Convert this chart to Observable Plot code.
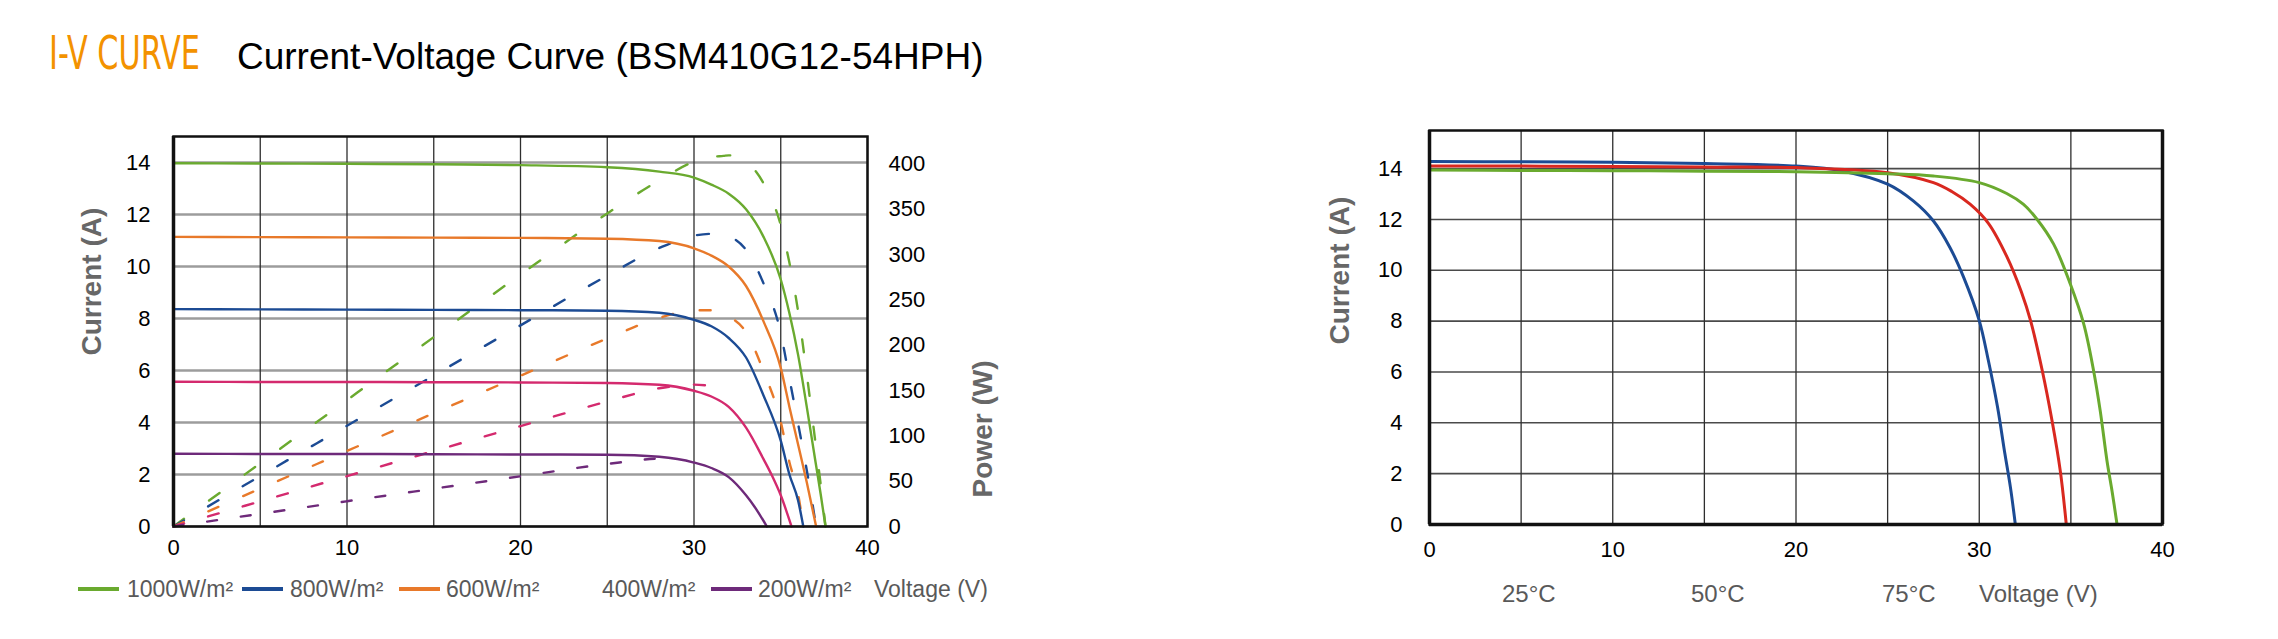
<!DOCTYPE html>
<html>
<head>
<meta charset="utf-8">
<script src="https://cdn.jsdelivr.net/npm/d3@7"></script>
<script src="https://cdn.jsdelivr.net/npm/@observablehq/plot@0.6"></script>
<style>
  html, body { margin: 0; padding: 0; background: #fff; }
  #root { position: relative; width: 2278px; height: 639px; overflow: hidden; font-family: "Liberation Sans", Arial, sans-serif; }
  .abs { position: absolute; white-space: nowrap; line-height: 1; }
  .sw { position: absolute; height: 4px; }
</style>
</head>
<body>
<div id="root"></div>
<script>
// ---------- DATA ----------
const titleMain = "I-V CURVE";
const titleSub = "Current-Voltage Curve (BSM410G12-54HPH)";
const voltageTicks = [0, 10, 20, 30, 40];
const voltageGrid = [0, 5, 10, 15, 20, 25, 30, 35, 40];
const currentTicks = [0, 2, 4, 6, 8, 10, 12, 14];
const powerTicks = [0, 50, 100, 150, 200, 250, 300, 350, 400];
const irradianceLabels = ["1000W/m²", "800W/m²", "600W/m²", "400W/m²", "200W/m²"];
const temperatureLabels = ["25°C", "50°C", "75°C"];

// I-V curves at different irradiance (V, A)
const ivV1000 = [0, 5, 10, 15, 20, 25, 28, 30, 31, 32, 33, 34, 35, 35.5, 36, 36.5, 37, 37.3, 37.58];
const ivI1000 = [13.97, 13.96, 13.95, 13.93, 13.9, 13.82, 13.65, 13.42, 13.15, 12.8, 12.2, 11.15, 9.5, 8.2, 6.6, 4.6, 2.5, 1.25, 0];
const ivV800 = [0, 5, 10, 15, 20, 25, 28, 30, 31, 32, 33, 34, 35, 35.5, 36, 36.3];
const ivI800 = [8.36, 8.35, 8.34, 8.33, 8.32, 8.3, 8.22, 7.95, 7.7, 7.25, 6.5, 5.05, 3.3, 2.0, 1.0, 0];
const ivV600 = [0, 5, 10, 15, 20, 25, 28, 30, 31, 32, 33, 34, 35, 35.5, 36, 36.5, 37.04];
const ivI600 = [11.14, 11.13, 11.12, 11.11, 11.1, 11.07, 10.98, 10.7, 10.42, 10.0, 9.25, 7.9, 6.1, 4.6, 3.15, 1.7, 0];
const ivV400 = [0, 5, 10, 15, 20, 25, 28, 30, 31, 32, 33, 34, 34.5, 35, 35.62];
const ivI400 = [5.57, 5.56, 5.56, 5.55, 5.54, 5.52, 5.45, 5.22, 5.0, 4.6, 3.8, 2.6, 1.95, 1.2, 0];
const ivV200 = [0, 5, 10, 15, 20, 25, 28, 30, 31, 32, 33, 33.5, 34.2];
const ivI200 = [2.8, 2.79, 2.79, 2.78, 2.77, 2.76, 2.68, 2.46, 2.25, 1.9, 1.2, 0.75, 0];

// P-V curves (dashed, V, W)
const pvV1000 = [0, 5, 10, 15, 20, 25, 28, 30, 31, 31.7, 32, 33, 34, 35, 35.5, 36, 36.5, 37, 37.3, 37.58];
const pvP1000 = [0, 69.8, 139.5, 209, 278, 345.5, 382, 402.6, 407.7, 409, 409.6, 402.6, 379, 332.5, 291, 237.6, 167.9, 92.5, 46.6, 0];
const pvV800 = [0, 5, 10, 15, 20, 25, 28, 30, 31, 32, 33, 34, 35, 35.5, 36, 36.5, 37.04];
const pvP800 = [0, 55.7, 111.2, 166.7, 222, 276.8, 307.4, 321, 323, 320, 305.3, 268.6, 213.5, 163.3, 113.4, 62.1, 0];
const pvV600 = [0, 5, 10, 15, 20, 25, 28, 30, 31, 32, 33, 34, 35, 35.5, 36, 36.3];
const pvP600 = [0, 41.8, 83.4, 125, 166.4, 207.5, 230.2, 238.5, 238.7, 232, 214.5, 171.7, 115.5, 71, 36, 0];
const pvV400 = [0, 5, 10, 15, 20, 25, 28, 30, 31];
const pvP400 = [0, 27.8, 55.6, 83.3, 110.8, 138, 152.6, 156.6, 155];
const pvV200 = [0, 5, 10, 15, 20, 25, 28, 29];
const pvP200 = [0, 14, 27.9, 41.7, 55.4, 69, 75, 75.4];

// I-V curves at different temperatures (V, A)
const tV25 = [0, 5, 10, 15, 20, 25, 27.5, 30, 31.5, 32.4, 33.15, 34.06, 34.97, 35.7, 36.24, 36.6, 36.97, 37.25, 37.52];
const tI25 = [13.95, 13.93, 13.92, 13.9, 13.88, 13.8, 13.71, 13.45, 13.02, 12.6, 12.01, 11.03, 9.46, 7.89, 6.05, 4.48, 2.51, 1.3, 0];
const tV50 = [0, 5, 10, 15, 20, 25, 27.5, 28.5, 29.5, 30.5, 31.5, 32.3, 32.8, 33.44, 33.97, 34.42, 34.75];
const tI50 = [14.1, 14.1, 14.08, 14.06, 14.04, 13.84, 13.45, 13.1, 12.6, 11.85, 10.55, 9.15, 8.02, 6.05, 4.09, 2.12, 0];
const tV75 = [0, 5, 10, 15, 20, 22.5, 25, 26.4, 27.5, 28.4, 29.15, 30, 30.5, 31, 31.4, 31.7, 31.97];
const tI75 = [14.28, 14.27, 14.25, 14.2, 14.1, 13.91, 13.39, 12.73, 11.94, 10.9, 9.72, 8.02, 6.44, 4.61, 2.78, 1.47, 0];

// ---------- STYLE ----------
const COL = { green: "#6aaa2f", blue: "#1c4b94", orange: "#e8792a", pink: "#d42a6e", purple: "#6e2a7a", red: "#d9281f" };
const FONT = '"Liberation Sans", Arial, sans-serif';
const AXIS_TITLE = "#676767";
const LEGEND_TEXT = "#595959";
const K = 13.94 / 400; // power (W) -> current-axis position

const rows = (vs, ys) => vs.map((v, k) => ({ v, y: ys[k] }));

const ivSeries = [
  { d: rows(ivV1000, ivI1000), c: COL.green },
  { d: rows(ivV800, ivI800), c: COL.blue },
  { d: rows(ivV600, ivI600), c: COL.orange },
  { d: rows(ivV400, ivI400), c: COL.pink },
  { d: rows(ivV200, ivI200), c: COL.purple }
];
const pvSeries = [
  { d: rows(pvV1000, pvP1000), c: COL.green, dash: "13,31" },
  { d: rows(pvV800, pvP800), c: COL.blue, dash: "12,28" },
  { d: rows(pvV600, pvP600), c: COL.orange, dash: "11,27" },
  { d: rows(pvV400, pvP400), c: COL.pink, dash: "11,25" },
  { d: rows(pvV200, pvP200), c: COL.purple, dash: "10,24" }
];
const tSeries = [
  { d: rows(tV75, tI75), c: COL.blue },
  { d: rows(tV50, tI50), c: COL.red },
  { d: rows(tV25, tI25), c: COL.green }
];

const root = document.getElementById("root");

// ---------- LEFT CHART ----------
const leftPlot = Plot.plot({
  width: 1040, height: 580,
  marginLeft: 173, marginRight: 173, marginTop: 136, marginBottom: 54,
  x: { domain: [0, 40], axis: null },
  y: { domain: [0, 15], axis: null },
  style: { fontFamily: FONT, fontSize: "22px", color: "#000", background: "transparent", overflow: "visible" },
  marks: [
    Plot.ruleY(currentTicks, { stroke: "#9c9c9c", strokeWidth: 2.4 }),
    Plot.ruleX(voltageGrid, { stroke: "#2e2e2e", strokeWidth: 1.3 }),
    ...pvSeries.map(s => Plot.line(s.d, { x: "v", y: d => d.y * K, stroke: s.c, strokeWidth: 2.4, strokeDasharray: s.dash, curve: "monotone-x" })),
    ...ivSeries.map(s => Plot.line(s.d, { x: "v", y: "y", stroke: s.c, strokeWidth: 2.4, curve: "monotone-x" })),
    Plot.frame({ stroke: "#111", strokeWidth: 2.5 }),
    Plot.ruleX([0], { stroke: "#111", strokeWidth: 3.5 }),
    Plot.axisY({ ticks: currentTicks, tickSize: 0, tickPadding: 23, fill: "#000", label: null }),
    Plot.axisY({ anchor: "right", ticks: powerTicks.map(p => p * K), tickFormat: v => String(Math.round(v / K)), tickSize: 0, tickPadding: 21, fill: "#000", label: null }),
    Plot.axisX({ ticks: voltageTicks, tickSize: 0, tickPadding: 13, fill: "#000", label: null }),
    Plot.text(["Current (A)"], { text: d => d, frameAnchor: "left", rotate: -90, dx: -81, dy: 24, fontSize: 28, fontWeight: "bold", fill: AXIS_TITLE }),
    Plot.text(["Power (W)"], { text: d => d, frameAnchor: "right", rotate: -90, dx: 116, dy: 29, fontSize: 28, fontWeight: "bold", fill: AXIS_TITLE })
  ]
});
const leftWrap = document.createElement("div");
leftWrap.className = "abs";
leftWrap.style.left = "0px"; leftWrap.style.top = "0px";
leftWrap.appendChild(leftPlot);
root.appendChild(leftWrap);

// ---------- RIGHT CHART ----------
const rightPlot = Plot.plot({
  width: 1098, height: 580,
  marginLeft: 249, marginRight: 116, marginTop: 130, marginBottom: 56,
  x: { domain: [0, 40], axis: null },
  y: { domain: [0, 15.5], axis: null },
  style: { fontFamily: FONT, fontSize: "22px", color: "#000", background: "transparent", overflow: "visible" },
  marks: [
    Plot.ruleY(currentTicks, { stroke: "#4a4a4a", strokeWidth: 1.6 }),
    Plot.ruleX(voltageGrid, { stroke: "#2e2e2e", strokeWidth: 1.3 }),
    ...tSeries.map(s => Plot.line(s.d, { x: "v", y: "y", stroke: s.c, strokeWidth: 3, curve: "catmull-rom" })),
    Plot.frame({ stroke: "#111", strokeWidth: 2.5 }),
    Plot.ruleX([0], { stroke: "#111", strokeWidth: 3.5 }),
    Plot.ruleX([40], { stroke: "#111", strokeWidth: 3.5 }),
    Plot.ruleY([0], { stroke: "#111", strokeWidth: 3.5 }),
    Plot.axisY({ ticks: currentTicks, tickSize: 0, tickPadding: 27, fill: "#000", label: null }),
    Plot.axisX({ ticks: voltageTicks, tickSize: 0, tickPadding: 17, fill: "#000", label: null }),
    Plot.text(["Current (A)"], { text: d => d, frameAnchor: "left", rotate: -90, dx: -89, dy: 17, fontSize: 28, fontWeight: "bold", fill: AXIS_TITLE })
  ]
});
const rightWrap = document.createElement("div");
rightWrap.className = "abs";
rightWrap.style.left = "1180px"; rightWrap.style.top = "0px";
rightWrap.appendChild(rightPlot);
root.appendChild(rightWrap);

// ---------- TITLES ----------
function addText(txt, left, top, size, color, extra) {
  const el = document.createElement("div");
  el.className = "abs";
  el.textContent = txt;
  el.style.left = left + "px";
  el.style.top = top + "px";
  el.style.fontSize = size + "px";
  el.style.color = color;
  if (extra) Object.assign(el.style, extra);
  root.appendChild(el);
  return el;
}
const t1 = addText(titleMain, 49, 30, 46, "#f39200", { fontFamily: '"Liberation Sans Narrow", "DejaVu Sans Condensed", "Liberation Sans", sans-serif', transformOrigin: "0 0" });
const w1 = t1.offsetWidth;
if (w1 > 0) t1.style.transform = `scaleX(${151 / w1})`;
addText(titleSub, 237, 37.5, 37, "#000");

// ---------- LEGENDS ----------
const leftLegendLayout = [
  { swatch: 78, text: 127, color: COL.green },
  { swatch: 242, text: 290, color: COL.blue },
  { swatch: 399, text: 446, color: COL.orange },
  { swatch: null, text: 602, color: COL.pink },
  { swatch: 711, text: 758, color: COL.purple }
];
irradianceLabels.forEach((lab, k) => {
  const L = leftLegendLayout[k];
  if (L.swatch !== null) {
    const s = document.createElement("div");
    s.className = "sw";
    s.style.left = L.swatch + "px"; s.style.top = "587px"; s.style.width = "41px";
    s.style.background = L.color;
    root.appendChild(s);
  }
  addText(lab, L.text, 578, 23, LEGEND_TEXT);
});
addText("Voltage (V)", 874, 578, 23, LEGEND_TEXT);

const rightLegendX = [1502, 1691, 1882];
temperatureLabels.forEach((lab, k) => addText(lab, rightLegendX[k], 582, 24, LEGEND_TEXT));
addText("Voltage (V)", 1979, 582, 24, LEGEND_TEXT);
</script>
</body>
</html>
